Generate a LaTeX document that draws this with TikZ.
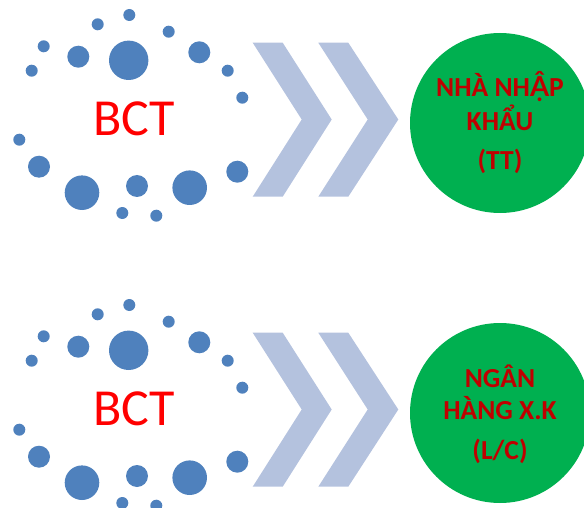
\documentclass[tikz,border=0pt]{standalone}
\usepackage{fontspec}
\setmainfont{Carlito}
\newfontfamily\latofont{Lato}
\definecolor{dotblue}{RGB}{79,129,189}
\definecolor{chev}{RGB}{180,194,222}
\definecolor{cgreen}{RGB}{0,176,80}
\definecolor{tred}{RGB}{192,0,0}
\tikzset{
  dot/.style={fill=dotblue,draw=none},
  chevshape/.style={fill=chev,draw=none},
  bigcirc/.style={circle,fill=cgreen,draw=none,minimum size=180pt,inner sep=0pt},
  ctext/.style={text=tred,font=\fontsize{27.5}{27.5}\selectfont\bfseries,inner sep=0pt},
  bct/.style={text=red,font=\fontsize{52}{52}\selectfont,inner sep=0pt}
}
\newcommand{\dotring}{%
  \fill[dot] (129.3,15) circle (6);
  \fill[dot] (97.7,24.3) circle (6);
  \fill[dot] (168.7,31.7) circle (6);
  \fill[dot] (43.7,46.3) circle (6);
  \fill[dot] (78.3,56.7) circle (11);
  \fill[dot] (128.7,60.3) circle (19.7);
  \fill[dot] (199.3,52.3) circle (11);
  \fill[dot] (31.7,70.7) circle (6);
  \fill[dot] (227.7,70.7) circle (6);
  \fill[dot] (242.3,97.7) circle (6);
  \fill[dot] (19.3,139.7) circle (6);
  \fill[dot] (39,166.7) circle (11);
  \fill[dot] (82,192.7) circle (17.3);
  \fill[dot] (137,186) circle (11);
  \fill[dot] (189.7,187.7) circle (17.3);
  \fill[dot] (237.3,171.7) circle (11);
  \fill[dot] (122.3,213) circle (6);
  \fill[dot] (156.3,215.7) circle (6);
  \fill[chevshape] (252.7,42.7) -- (282.7,42.7) -- (331.7,119.5) -- (282.7,196.7) -- (252.7,196.7) -- (301.7,119.5) -- cycle;
  \fill[chevshape] (318.3,42.7) -- (348.3,42.7) -- (398.3,119.5) -- (348.3,196.7) -- (318.3,196.7) -- (367.7,119.5) -- cycle;
}
\begin{document}
\begin{tikzpicture}[x=1pt,y=-1pt]
\useasboundingbox (0,0) rectangle (584,508);
% top group
\dotring
\node[bct] (bct1) at (134.3,119) {BCT};
\node[bigcirc] (c1) at (500,123) {};
\node[ctext] (t1a) at (500,86.7) {NHÀ NH{\latofont\bfseries Ậ}P};
\node[ctext] (t1b) at (500,118.3) {KHẨU};
\node[ctext] (t1c) at (500,161.7) {(TT)};
% bottom group
\begin{scope}[yshift=-290pt]
\dotring
\node[bct] (bct2) at (134.3,119) {BCT};
\node[bigcirc] (c2) at (500,123) {};
\node[ctext] (t2a) at (500,86.7) {NGÂN};
\node[ctext] (t2b) at (500,118.3) {HÀNG X.K};
\node[ctext] (t2c) at (500,161.7) {(L/C)};
\end{scope}
\end{tikzpicture}
\end{document}
